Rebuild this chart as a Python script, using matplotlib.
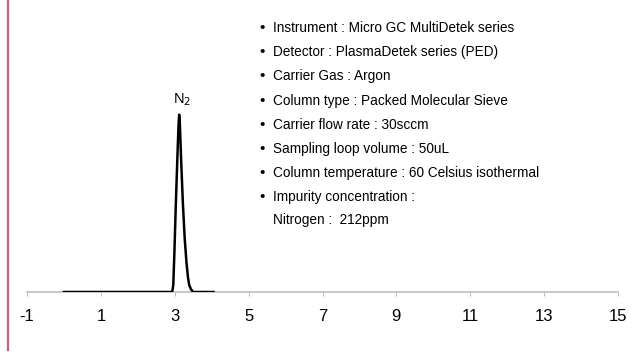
import matplotlib.pyplot as plt
from matplotlib.lines import Line2D

# chromatogram (time in min, signal in % of peak)
time = [0.0, 2.92, 2.94, 2.96, 2.99, 3.03, 3.07, 3.10, 3.12, 3.14, 3.17,
        3.22, 3.27, 3.32, 3.36, 3.39, 3.44, 3.50, 4.05]
signal = [0, 0, 1, 4, 22, 50, 75, 93, 100, 94, 76,
          50, 30, 16, 8, 4, 1.5, 0, 0]

xticks = [-1, 1, 3, 5, 7, 9, 11, 13, 15]
peak_name = r"N$_2$"
peak_time = 3.12

notes = [
    "Instrument : Micro GC MultiDetek series",
    "Detector : PlasmaDetek series (PED)",
    "Carrier Gas : Argon",
    "Column type : Packed Molecular Sieve",
    "Carrier flow rate : 30sccm",
    "Sampling loop volume : 50uL",
    "Column temperature : 60 Celsius isothermal",
    "Impurity concentration :",
]
last_line = "Nitrogen :  212ppm"

plt.rcParams['font.family'] = ['Liberation Sans', 'DejaVu Sans']

W, H = 634, 360
fig = plt.figure(figsize=(W / 100, H / 100), dpi=100)
# axes: x -1..15 spans px 27..618, baseline at px 292
ax = fig.add_axes([27 / W, (H - 292) / H, (618 - 27) / W, 282 / H])
ax.plot(time, signal, color='black', lw=1.8, solid_joinstyle='round')
ax.set_xlim(-1, 15)
ax.set_ylim(0, 159)
ax.set_xticks(xticks)
ax.set_xticklabels([str(t) for t in xticks], fontsize=12)
ax.set_yticks([])
for s in ['top', 'right', 'left']:
    ax.spines[s].set_visible(False)
ax.spines['bottom'].set_color('#BFBFBF')
ax.spines['bottom'].set_linewidth(1.2)
ax.spines['bottom'].set_zorder(0)
ax.tick_params(axis='x', direction='out', length=3, color='#BFBFBF',
               pad=9, labelcolor='black')
ax.patch.set_alpha(0)

ax.annotate(peak_name, (peak_time, 100), xytext=(2, 5),
            textcoords='offset points', ha='center', va='bottom', fontsize=10.5)

# notes block
y0 = 28
for i, s in enumerate(notes):
    y = y0 + i * 24.2
    fig.text(262 / W, 1 - y / H, "\u2022", ha='center', va='center', fontsize=11)
    fig.text(273 / W, 1 - y / H, s, ha='left', va='center', fontsize=9.8)
fig.text(273 / W, 1 - 220 / H, last_line, ha='left', va='center', fontsize=9.8)

# left border line
fig.add_artist(Line2D([7.5 / W, 7.5 / W], [1 - 350 / H, 1], color='#C0627A',
                      lw=1.6, transform=fig.transFigure))

fig.savefig('out.png', dpi=100)
